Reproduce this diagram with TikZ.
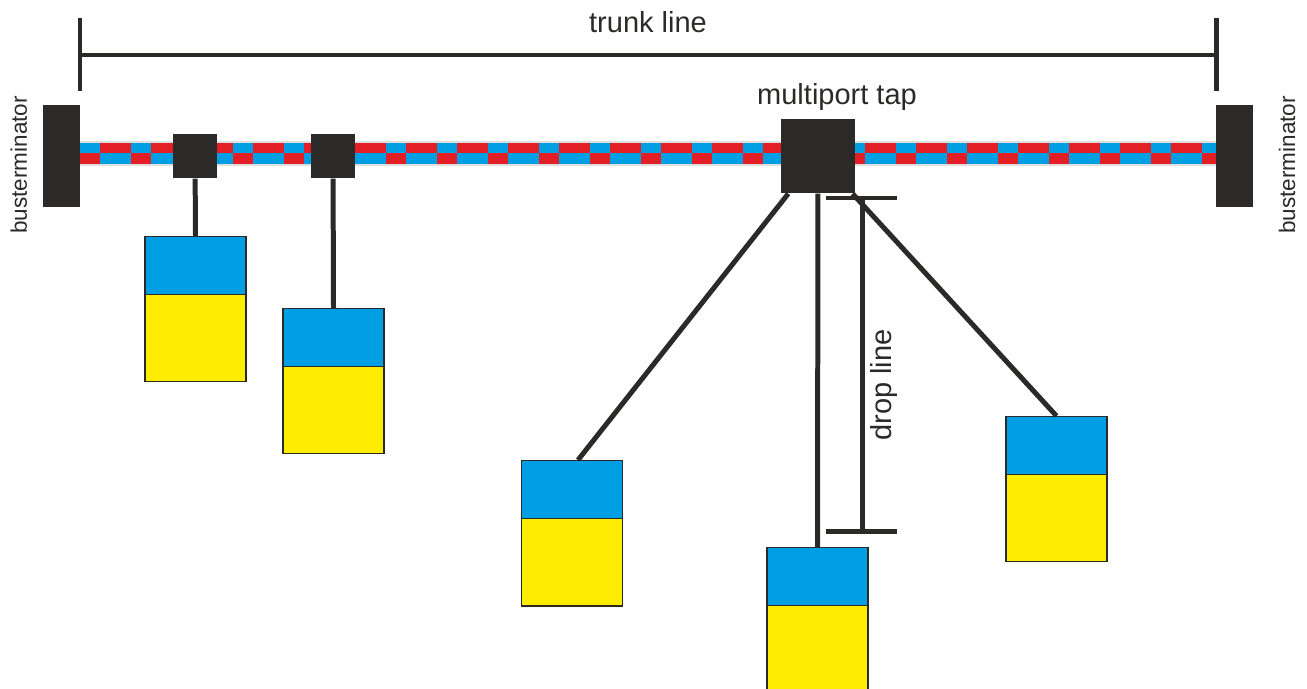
\documentclass[tikz,border=0pt]{standalone}
\usepackage{fontspec}
\setmainfont{Liberation Sans}
\usetikzlibrary{positioning}

\definecolor{coreldark}{HTML}{2B2A29}
\definecolor{busblue}{HTML}{009FE3}
\definecolor{busred}{HTML}{E31E24}
\definecolor{devyellow}{HTML}{FFED00}

\tikzset{
  lbl/.style={font=\fontsize{8.25}{10}\selectfont, text=coreldark, inner sep=0pt},
  smalllbl/.style={font=\fontsize{6.4}{8}\selectfont, text=coreldark, inner sep=0pt},
  terminator/.style={fill=coreldark, minimum width=0.37cm, minimum height=1.02cm, inner sep=0pt},
  tapbox/.style={fill=coreldark, minimum size=0.44cm, inner sep=0pt},
  multitap/.style={fill=coreldark, minimum size=0.74cm, inner sep=0pt},
  station/.style={draw=coreldark, line width=0.4pt, fill=devyellow,
    minimum width=1.01cm, minimum height=1.45cm, inner sep=0pt, anchor=north,
    path picture={
      \fill[busblue] (path picture bounding box.north west)
        rectangle ([yshift=-0.58cm]path picture bounding box.north east);
      \draw[coreldark, line width=0.4pt] ([yshift=-0.58cm]path picture bounding box.north west)
        -- ([yshift=-0.58cm]path picture bounding box.north east);
    }},
  drop/.style={draw=coreldark, line width=1.42pt},
  dim/.style={draw=coreldark, line width=1.42pt}
}

\begin{document}
\begin{tikzpicture}[x=0.01cm, y=-0.01cm]
\useasboundingbox (0,0) rectangle (1307,688);

% bus cable
\draw[gray!25, line width=1pt] (80,143) rectangle (1216,164);
\fill[busblue] (80,143) rectangle (1216,153.5);
\fill[busred] (80,153.5) rectangle (1216,164);
\foreach \x in {100,151,...,1171} {
  \fill[busred] (\x,143) rectangle ++(31,10.5);
  \fill[busblue] (\x,153.5) rectangle ++(31,10.5);
}

% terminators and taps
\node[terminator] (termL) at (61.5,156) {};
\node[terminator] (termR) at (1234.5,156) {};
\node[tapbox] (tap1) at (195,156) {};
\node[tapbox] (tap2) at (333,156) {};
\node[multitap] (mtap) at (818,156) {};

% stations
\node[station] (st1) at (195.5,236) {};
\node[station] (st2) at (333.5,308) {};
\node[station] (st3) at (572,460) {};
\node[station] (st4) at (817.5,547) {};
\node[station] (st5) at (1056.5,416) {};

% drop lines
\draw[drop] (tap1) -- (st1.north);
\draw[drop] (tap2) -- (st2.north);
\draw[drop] (mtap) -- ([xshift=0.06cm]st3.north);
\draw[drop] (mtap) -- (st4.north);
\draw[drop] (mtap) -- (st5.north);

% trunk line dimension
\coordinate (trunkL) at (80,55);
\coordinate (trunkR) at (1216,55);
\draw[dim] (trunkL) -- (trunkR);
\draw[dim] (80,18) -- (80,91);
\draw[dim] (1216,18) -- (1216,91);

% drop line dimension
\coordinate (dropT) at (862,198);
\coordinate (dropB) at (862,531);
\draw[dim] (dropT) -- (dropB);
\draw[dim] (826,198) -- (897,198);
\draw[dim] (826,531) -- (897,531);

% labels
\node[lbl, anchor=base] (trunklbl) at (648,33) {trunk line};
\node[lbl, anchor=base] (mtaplbl) at (837,105) {multiport tap};
\node[smalllbl, anchor=base, rotate=90] (termLlbl) at (27,165) {busterminator};
\node[smalllbl, anchor=base, rotate=90] (termRlbl) at (1295,165) {busterminator};
\node[lbl, anchor=base, rotate=90] (droplbl) at (891,385) {drop line};
\end{tikzpicture}
\end{document}
